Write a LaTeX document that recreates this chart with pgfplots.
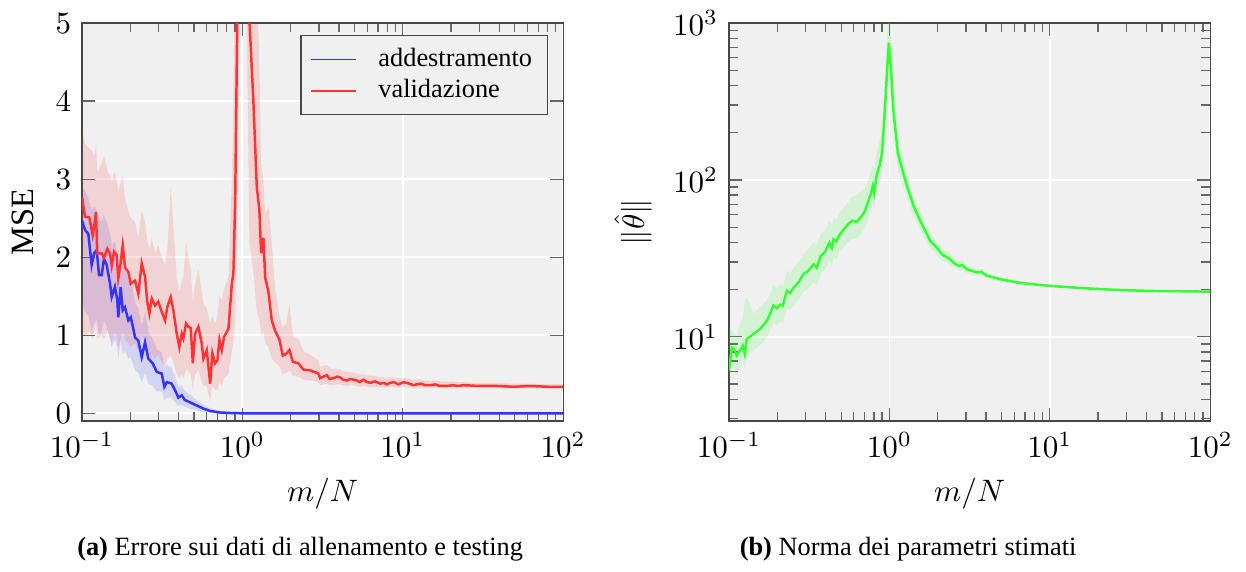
\documentclass[border=0pt]{standalone}
\usepackage{pgfplots}
\pgfplotsset{compat=1.18}
\usepackage{pgfplotstable}
\usepgfplotslibrary{fillbetween}
\usepackage{fontspec}
\setmainfont{Liberation Serif}

\definecolor{trainc}{RGB}{51,51,255}
\definecolor{valc}{RGB}{255,51,51}
\definecolor{normc}{RGB}{51,255,51}
\definecolor{bgc}{RGB}{240,240,240}
\definecolor{framec}{RGB}{70,70,70}

% training error: mean, lower and upper band
\pgfplotstableread{
x y lo hi
0.1000 2.47 1.45 2.90
0.1044 2.35 1.30 2.85
0.1095 2.30 1.25 2.75
0.1149 1.90 1.05 2.60
0.1189 2.05 1.15 2.65
0.1235 2.09 1.20 2.60
0.1277 1.77 1.00 2.50
0.1327 1.77 1.05 2.45
0.1371 1.98 1.20 2.55
0.1426 1.90 1.10 2.45
0.1496 1.66 0.95 2.30
0.1532 1.49 0.85 2.15
0.1605 1.62 0.95 2.20
0.1660 1.45 0.85 2.05
0.1684 1.23 0.70 1.85
0.1742 1.62 0.95 2.15
0.1795 1.32 0.75 1.85
0.1854 1.36 0.80 1.90
0.1945 1.19 0.70 1.70
0.2014 1.23 0.72 1.70
0.2091 1.08 0.62 1.55
0.2143 0.97 0.55 1.42
0.2245 0.93 0.52 1.35
0.2357 0.72 0.40 1.12
0.2472 0.91 0.52 1.30
0.2591 0.70 0.38 1.05
0.2761 0.64 0.35 0.95
0.2925 0.53 0.28 0.82
0.3141 0.51 0.28 0.78
0.3263 0.34 0.17 0.58
0.3378 0.40 0.20 0.62
0.3623 0.38 0.20 0.58
0.3860 0.27 0.13 0.43
0.3989 0.20 0.10 0.34
0.4188 0.23 0.11 0.36
0.4377 0.17 0.08 0.28
0.4724 0.14 0.06 0.24
0.5194 0.10 0.04 0.17
0.5715 0.06 0.02 0.11
0.6295 0.03 0.01 0.06
0.7255 0.01 0.00 0.025
0.8790 0.002 0.00 0.005
1.0 0 0 0
2.0 0 0 0
5.0 0 0 0
10.0 0 0 0
20.0 0 0 0
50.0 0 0 0
100.0 0 0 0
}\trainT

% validation error: mean, lower and upper band
\pgfplotstableread{
x y lo hi
0.1000 2.77 1.00 3.65
0.1044 2.52 1.00 3.45
0.1111 2.51 1.05 3.40
0.1167 2.28 0.95 3.35
0.1189 2.38 1.05 3.30
0.1222 2.58 1.15 3.45
0.1245 2.05 0.95 3.10
0.1327 2.05 1.00 3.20
0.1371 1.99 0.95 3.30
0.1439 2.11 1.05 3.10
0.1496 2.05 1.00 3.05
0.1532 1.89 0.90 2.95
0.1585 2.07 1.05 3.10
0.1645 2.03 1.00 3.00
0.1684 1.73 0.85 2.85
0.1742 1.92 0.95 2.95
0.1795 2.15 1.05 3.05
0.1854 1.87 0.95 2.75
0.1945 1.81 0.90 2.60
0.2014 1.66 0.85 2.50
0.2143 1.70 0.90 2.45
0.2245 1.53 0.80 2.25
0.2357 1.92 1.00 2.60
0.2472 1.75 0.90 2.45
0.2553 1.43 0.75 2.20
0.2630 1.28 0.65 2.10
0.2722 1.47 0.75 2.25
0.2853 1.38 0.70 2.05
0.2992 1.43 0.75 2.15
0.3141 1.30 0.65 2.00
0.3296 1.19 0.60 1.90
0.3405 1.36 0.70 2.10
0.3573 1.49 0.75 2.90
0.3715 1.32 0.65 2.40
0.3899 1.02 0.50 1.75
0.4046 0.85 0.45 1.55
0.4188 1.02 0.50 1.70
0.4285 0.96 0.45 1.75
0.4457 1.15 0.55 2.20
0.4603 1.11 0.55 2.00
0.4766 1.09 0.50 1.85
0.4909 0.64 0.30 1.45
0.5070 1.02 0.50 1.65
0.5318 1.11 0.55 1.85
0.5585 0.89 0.40 1.55
0.5715 0.70 0.35 1.40
0.5998 0.81 0.35 1.35
0.6295 0.38 0.15 1.15
0.6506 0.77 0.35 1.25
0.6761 0.64 0.30 1.15
0.6988 0.68 0.30 1.25
0.7194 0.94 0.40 1.50
0.7437 0.81 0.35 1.45
0.7690 0.98 0.45 1.60
0.8185 1.08 0.50 1.75
0.8597 1.66 0.80 3.00
0.8790 1.79 0.90 4.00
0.9016 2.70 1.20 6.00
0.9312 5.20 2.50 12.0
0.9650 12.0 5.00 30.0
1.0000 40.0 15.0 90.0
1.0500 15.0 6.00 35.0
1.1060 5.05 2.20 12.0
1.1710 4.00 1.80 9.00
1.2300 2.90 1.30 5.50
1.2760 2.61 1.20 4.50
1.3090 2.05 1.00 3.20
1.3530 2.25 1.05 3.00
1.3870 1.74 0.90 2.55
1.4530 1.56 0.85 2.65
1.5250 1.19 0.70 2.20
1.6000 1.06 0.65 1.60
1.7030 0.94 0.60 1.25
1.7860 0.74 0.50 1.10
1.8740 0.76 0.52 1.15
1.9650 0.81 0.55 1.40
2.0640 0.66 0.48 1.00
2.2360 0.64 0.47 0.95
2.4030 0.56 0.43 0.80
2.6430 0.55 0.42 0.75
2.9790 0.51 0.40 0.68
3.0500 0.45 0.36 0.60
3.2000 0.47 0.37 0.61
3.3600 0.49 0.38 0.62
3.5000 0.44 0.36 0.58
3.7000 0.45 0.36 0.57
3.9000 0.47 0.37 0.57
4.0700 0.46 0.37 0.56
4.2500 0.43 0.36 0.54
4.4800 0.42 0.35 0.53
4.7000 0.44 0.36 0.53
5.1700 0.42 0.35 0.51
5.4000 0.40 0.34 0.50
5.7000 0.43 0.35 0.50
5.9700 0.40 0.34 0.49
6.3000 0.39 0.34 0.48
6.7000 0.41 0.34 0.48
7.2300 0.38 0.33 0.46
7.6000 0.39 0.33 0.46
8.0000 0.37 0.33 0.45
8.3400 0.39 0.34 0.46
8.8000 0.40 0.34 0.46
9.4000 0.37 0.33 0.45
10.100 0.40 0.34 0.45
11.000 0.38 0.33 0.44
11.600 0.36 0.33 0.43
12.200 0.37 0.33 0.43
13.000 0.38 0.33 0.43
13.800 0.36 0.33 0.42
14.800 0.36 0.33 0.42
16.000 0.37 0.33 0.42
17.000 0.35 0.32 0.41
18.800 0.35 0.32 0.41
20.500 0.36 0.32 0.41
22.000 0.35 0.32 0.40
23.900 0.36 0.32 0.40
30.400 0.35 0.32 0.39
38.600 0.35 0.32 0.39
49.100 0.34 0.32 0.38
62.400 0.35 0.32 0.38
79.300 0.34 0.32 0.37
100.00 0.34 0.32 0.37
}\valT

% norm of the estimated parameters: mean, lower and upper band
\pgfplotstableread{
x y lo hi
0.1000 6.07 5.4 10.8
0.1040 8.55 6.5 11.0
0.1074 8.40 6.3 10.5
0.1117 7.57 6.0 9.8
0.1172 8.20 6.4 12.5
0.1217 8.77 6.8 13.0
0.1252 7.80 6.2 17.0
0.1289 9.66 7.4 18.0
0.1418 10.4 8.2 14.0
0.1561 11.2 8.8 15.5
0.1718 12.6 9.9 17.0
0.1820 14.3 11.2 19.0
0.1889 15.8 12.3 21.5
0.1985 15.2 11.8 20.5
0.2082 16.0 12.4 22.0
0.2164 15.8 12.2 21.0
0.2293 19.6 15.2 26.0
0.2403 19.0 14.8 25.5
0.2520 20.5 15.8 27.5
0.2706 22.2 17.2 30.0
0.2909 25.1 19.4 33.5
0.3126 26.4 20.4 36.0
0.3360 29.0 22.2 40.0
0.3525 27.5 21.2 39.0
0.3735 32.8 25.2 45.0
0.3973 34.8 26.8 48.0
0.4226 39.8 30.5 55.0
0.4374 37.0 28.5 52.0
0.4476 41.8 32.0 57.0
0.4650 40.5 31.2 56.0
0.4924 45.2 34.8 62.0
0.5416 50.9 39.2 70.0
0.5820 54.9 42.2 78.0
0.6262 54.0 42.0 80.0
0.6730 58.9 46.0 85.0
0.7052 63.4 50.0 90.0
0.7395 73.4 58.0 102
0.7652 80.9 64.0 112
0.7876 91.5 72.0 125
0.8030 82.8 66.0 118
0.8344 108.8 86.0 150
0.8670 122.6 96.0 175
0.8974 145.7 112 215
0.9275 237 175 360
0.9639 470 330 800
0.9912 749 500 1300
1.0203 519 360 900
1.0595 275 200 420
1.1277 149 118 200
1.1945 119.5 98 150
1.2840 92.0 78 110
1.4125 68.5 59 79
1.5545 54.9 48 62
1.7110 45.2 40 51
1.7960 40.8 36.5 45.5
1.9770 37.0 33.5 40.5
2.1250 33.6 30.8 36.8
2.3910 31.2 29.0 33.8
2.5200 29.6 27.6 32.0
2.6940 28.3 26.6 30.2
2.8500 28.6 26.8 30.6
3.0380 27.0 25.6 28.6
3.5110 25.7 24.6 26.9
3.7500 25.9 24.8 27.1
4.0520 24.5 23.6 25.5
4.9090 23.3 22.6 24.0
6.2370 22.2 21.7 22.7
7.9140 21.6 21.2 22.0
10.050 21.1 20.8 21.4
16.210 20.4 20.2 20.6
26.210 19.9 19.75 20.05
42.300 19.6 19.5 19.7
67.900 19.5 19.42 19.58
100.00 19.4 19.33 19.47
}\normT

\begin{document}
\begin{tikzpicture}

\begin{axis}[
  scale only axis,
  width=155.2pt, height=128.4pt,
  at={(26.45pt,46.77pt)}, anchor=south west,
  xmode=log, xmin=0.1, xmax=100,
  ymin=-0.1, ymax=5,
  ytick={0,1,2,3,4,5},
  axis background/.style={fill=bgc},
  axis line style={framec},
  every tick/.style={black!60},
  grid=major,
  major grid style={white, line width=0.6pt},
  tick align=inside,
  xlabel={$m/N$},
  ylabel={\fontsize{10.5}{12}\selectfont MSE},
  legend cell align=left,
  legend style={at={(0.969,0.97)}, anchor=north east,
    draw=framec, fill=bgc,
    font=\fontsize{8.5}{10.6}\selectfont,
    column sep=5pt,
    row sep=-1.3pt},
  % a leading empty path keeps the first legend line in its own colour
  legend image code/.code={%
    \path (0pt,0pt);
    \draw[#1] (0pt,0pt) -- (14.5pt,0pt);},
]
  \addplot[draw=none, name path=tlo, forget plot] table[x=x, y=lo] {\trainT};
  \addplot[draw=none, name path=thi, forget plot] table[x=x, y=hi] {\trainT};
  \addplot[fill=trainc, fill opacity=0.15, draw=none, forget plot] fill between[of=tlo and thi];
  \addplot[draw=none, name path=vlo, forget plot] table[x=x, y=lo] {\valT};
  \addplot[draw=none, name path=vhi, forget plot] table[x=x, y=hi] {\valT};
  \addplot[fill=valc, fill opacity=0.15, draw=none, forget plot] fill between[of=vlo and vhi];
  \addplot[trainc, line width=0.8pt, forget plot] table[x=x, y=y] {\trainT};
  \addplot[valc, line width=0.8pt, forget plot] table[x=x, y=y] {\valT};
  \addlegendimage{draw=trainc, line width=0.5pt}
  \addlegendentry{addestramento}
  \addlegendimage{draw=valc, line width=0.5pt}
  \addlegendentry{validazione}
\end{axis}

\begin{axis}[
  scale only axis,
  width=155.2pt, height=128.4pt,
  at={(235.16pt,46.77pt)}, anchor=south west,
  xmode=log, xmin=0.1, xmax=100,
  ymode=log, ymin=2.9, ymax=1000,
  axis background/.style={fill=bgc},
  axis line style={framec},
  every tick/.style={black!60},
  grid=major,
  major grid style={white, line width=0.6pt},
  tick align=inside,
  xlabel={$m/N$},
  ylabel={$\|\hat{\theta}\|$},
]
  \addplot[draw=none, name path=nlo, forget plot] table[x=x, y=lo] {\normT};
  \addplot[draw=none, name path=nhi, forget plot] table[x=x, y=hi] {\normT};
  \addplot[fill=normc, fill opacity=0.15, draw=none, forget plot] fill between[of=nlo and nhi];
  \addplot[normc, line width=0.8pt] table[x=x, y=y] {\normT};
\end{axis}

\node[anchor=base, font=\fontsize{8.5}{10}\selectfont] at (96.8pt,3.55pt)
  {\textbf{(a)} Errore sui dati di allenamento e testing};
\node[anchor=base, font=\fontsize{8.5}{10}\selectfont] at (292.9pt,3.55pt)
  {\textbf{(b)} Norma dei parametri stimati};
% page frame
\path (0pt,0pt) rectangle (401.9pt,182.6pt);
\end{tikzpicture}
\end{document}
